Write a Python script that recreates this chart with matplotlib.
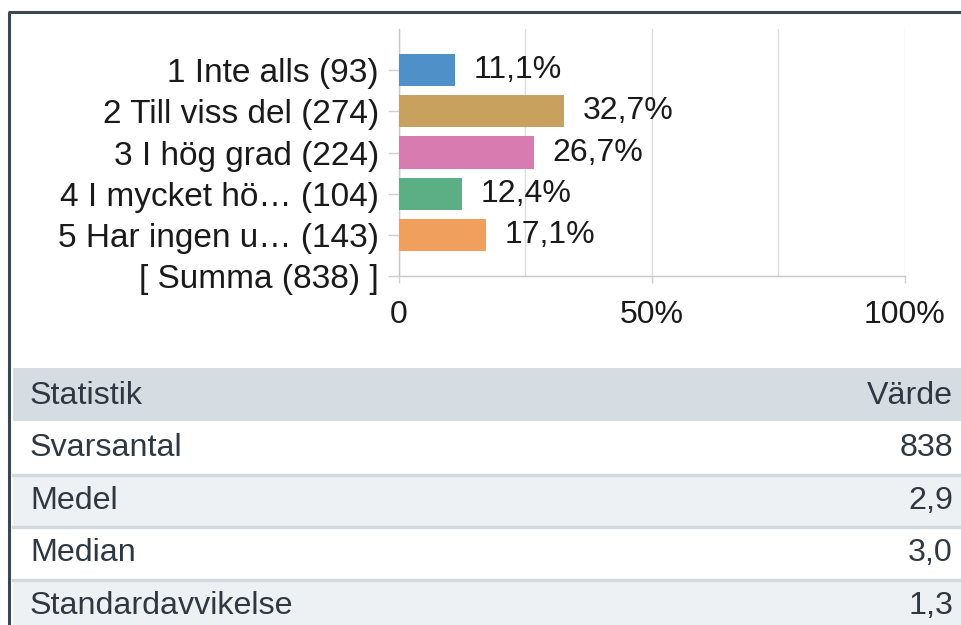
import matplotlib.pyplot as plt
from matplotlib.patches import Rectangle

plt.rcParams["font.family"] = ["Liberation Sans", "DejaVu Sans"]

# survey answers
CATEGORIES = ["1 Inte alls", "2 Till viss del", "3 I hög grad",
              "4 I mycket hö…", "5 Har ingen u…"]
COUNTS = [93, 274, 224, 104, 143]
PERCENTS = [11.1, 32.7, 26.7, 12.4, 17.1]
COLOURS = ["#5090c8", "#c9a15f", "#d87bb0", "#5cae84", "#f0a05c"]

X_TICKS = [0, 50, 100]
X_TICK_LABELS = ["0", "50%", "100%"]
X_GRID = [0, 25, 50, 75, 100]

# statistics table
TABLE_HEADER = ["Statistik", "Värde"]
STAT_NAMES = ["Svarsantal", "Medel", "Median", "Standardavvikelse"]
STAT_VALUES = ["838", "2,9", "3,0", "1,3"]

W, H = 962, 625


def fmt(v):
    return f"{v:.1f}".replace(".", ",") + "%"


fig = plt.figure(figsize=(W / 100, H / 100), dpi=100)
fig.patch.set_facecolor("white")

# background layer in pixel coordinates: frame + table
bg = fig.add_axes([0, 0, 1, 1], zorder=0)
bg.set_xlim(0, W)
bg.set_ylim(H, 0)
bg.axis("off")

# frame lines of the screenshot
bg.plot([8, W], [12, 12], color="#3b4652", lw=2.2, solid_capstyle="butt")
bg.plot([9, 9], [12, H], color="#3b4652", lw=2.2, solid_capstyle="butt")

# table
tx0, tx1 = 13, W
header_top, header_bot = 368, 421
bg.add_patch(Rectangle((tx0, header_top), tx1 - tx0, header_bot - header_top,
                       color="#d6dde2", lw=0))
bg.text(30, (header_top + header_bot) / 2 + 1, TABLE_HEADER[0], fontsize=23.2,
        color="#2f3842", va="center", ha="left")
bg.text(953, (header_top + header_bot) / 2 + 1, TABLE_HEADER[1], fontsize=23.2,
        color="#2f3842", va="center", ha="right")

row_h = 52.5
for i, (name, val) in enumerate(zip(STAT_NAMES, STAT_VALUES)):
    top = header_bot + i * row_h
    face = "white" if i % 2 == 0 else "#edf1f4"
    bg.add_patch(Rectangle((tx0, top), tx1 - tx0, row_h, color=face, lw=0))
    if i > 0:
        bg.plot([tx0, tx1], [top + 1, top + 1], color="#d2dae0", lw=2.5)
    mid = top + row_h / 2 + 1
    bg.text(30, mid, name, fontsize=23.2, color="#2f3842", va="center", ha="left")
    bg.text(953, mid, val, fontsize=23.2, color="#2f3842", va="center", ha="right")

# bar chart
ax = fig.add_axes([399 / W, (H - 276) / H, 506 / W, 247 / H], zorder=2)
ax.patch.set_alpha(0)

ypos = list(range(len(CATEGORIES)))
ax.barh(ypos, PERCENTS, height=0.78, color=COLOURS, zorder=3)
for y, v in zip(ypos, PERCENTS):
    ax.annotate(fmt(v), xy=(v, y), xytext=(13.5, 0), textcoords="offset points",
                va="center", ha="left", fontsize=23, color="#1a1a1a")

ylabels = [f"{c} ({n})" for c, n in zip(CATEGORIES, COUNTS)]
ylabels.append(f"[ Summa ({sum(COUNTS)}) ]")
ax.set_yticks(range(len(ylabels)))
ax.set_yticklabels(ylabels, fontsize=24, color="#1a1a1a")
ax.set_ylim(len(ylabels) - 1, -1)

ax.set_xlim(0, 100)
ax.set_xticks(X_TICKS)
ax.set_xticklabels(X_TICK_LABELS, fontsize=23, color="#1a1a1a")
for g in X_GRID:
    ax.axvline(g, color="#dcdcdc", lw=1, zorder=1)

ax.tick_params(axis="y", length=8, width=1, color="#d0d0d0", pad=6.5)
ax.tick_params(axis="x", length=5, width=1, color="#d0d0d0", pad=12)
for side in ["top", "right"]:
    ax.spines[side].set_visible(False)
for side in ["left", "bottom"]:
    ax.spines[side].set_color("#c8c8c8")
    ax.spines[side].set_linewidth(1)

fig.savefig("out.png", dpi=100)
